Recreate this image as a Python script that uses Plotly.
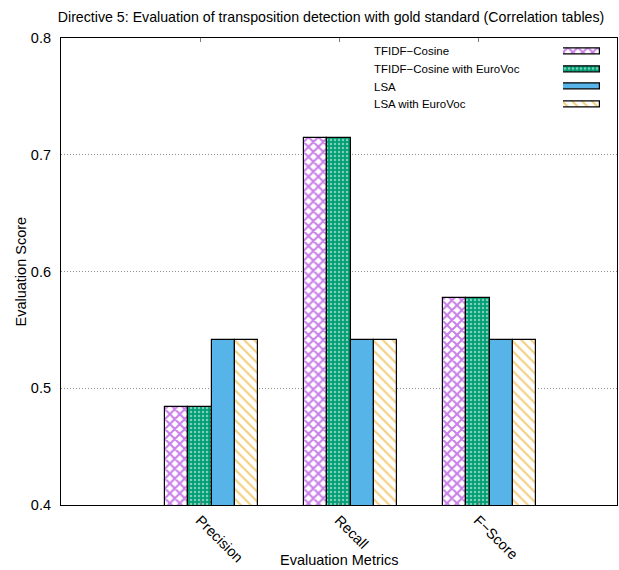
import numpy as np
import plotly.graph_objects as go

# Evaluation results per metric
metrics = ["Precision", "Recall", "F\u2212Score"]
series_names = ["TFIDF\u2212Cosine", "TFIDF\u2212Cosine with EuroVoc", "LSA", "LSA with EuroVoc"]
tfidf_cosine = [0.4839, 0.7143, 0.5769]
tfidf_cosine_eurovoc = [0.4839, 0.7143, 0.5769]
lsa = [0.5417, 0.5417, 0.5417]
lsa_eurovoc = [0.5417, 0.5417, 0.5417]
y_ticks = [0.4, 0.5, 0.6, 0.7, 0.8]

series_values = [tfidf_cosine, tfidf_cosine_eurovoc, lsa, lsa_eurovoc]

# Bar styles (gnuplot-like palette and fill patterns)
styles = [
    dict(color="white", pattern=dict(shape="x", fgcolor="#9400d3", bgcolor="white",
                                     size=7, solidity=0.5, fillmode="overlay")),
    dict(color="#009e73", pattern=dict(shape=".", fgcolor="white", bgcolor="#009e73",
                                       size=4, solidity=0.3, fillmode="overlay")),
    dict(color="#56b4e9"),
    dict(color="white", pattern=dict(shape="\\", fgcolor="#e69f00", bgcolor="white",
                                     size=7, solidity=0.3, fillmode="overlay")),
]

FONT = "Liberation Sans, Arial, sans-serif"
n_series = len(series_values)
bar_w = 1.0 / (n_series + 2)
idx = np.arange(len(metrics))

fig = go.Figure()
for j, (name, vals) in enumerate(zip(series_names, series_values)):
    offset = (j - 1) * bar_w
    fig.add_trace(go.Bar(
        x=idx + offset, y=vals, width=bar_w, name=name,
        marker=dict(line=dict(color="black", width=1.2), **styles[j]),
        showlegend=False, xaxis="x", yaxis="y",
    ))

# Key swatches drawn on a small auxiliary axis pair in the upper right
for j, name in enumerate(series_names):
    fig.add_trace(go.Bar(
        x=[1], y=[j], base=0, orientation="h", width=0.34,
        marker=dict(line=dict(color="black", width=1.2), **styles[j]),
        showlegend=False, hoverinfo="skip", xaxis="x2", yaxis="y2",
    ))
    fig.add_annotation(
        text=name, xref="paper", yref="y2", x=0.559, y=j,
        xanchor="left", yanchor="middle", showarrow=False,
        font=dict(family=FONT, size=11.5, color="black"),
    )

fig.update_layout(
    width=619, height=570,
    margin=dict(l=61, r=2, t=38, b=65),
    paper_bgcolor="white", plot_bgcolor="white",
    barmode="overlay", bargap=0,
    title=dict(text="Directive 5: Evaluation of transposition detection with gold standard (Correlation tables)",
               x=331 / 619, xanchor="center", y=1 - 17 / 570, yanchor="middle",
               font=dict(family=FONT, size=14.2, color="black")),
    xaxis=dict(range=[-1, 3], tickvals=list(idx), ticktext=metrics, tickangle=45,
               showgrid=False, zeroline=False, showline=True, mirror="ticks",
               linecolor="black", linewidth=1.2, ticks="inside", ticklen=4,
               tickcolor="#808080", tickfont=dict(family=FONT, size=14.5, color="black")),
    yaxis=dict(range=[0.4, 0.8], tickvals=y_ticks, tickformat=".1f",
               showgrid=True, griddash="1px,2px", gridcolor="#909090", gridwidth=1,
               zeroline=False, showline=True, mirror=True, linecolor="black", linewidth=1.2,
               ticks="", ticklabelstandoff=6,
               tickfont=dict(family=FONT, size=14.5, color="black")),
    xaxis2=dict(domain=[(563 - 61) / 556, (600 - 61) / 556], range=[0, 1], anchor="y2",
                visible=False, fixedrange=True),
    yaxis2=dict(domain=[0.839, 0.9905], range=[3.5, -0.5], anchor="x2",
                visible=False, fixedrange=True),
    annotations=list(fig.layout.annotations) + [
        dict(text="Evaluation Score", xref="paper", yref="paper", x=(20 - 61) / 556, y=0.5,
             textangle=-90, xanchor="center", yanchor="middle", showarrow=False,
             font=dict(family=FONT, size=14.5, color="black")),
        dict(text="Evaluation Metrics", xref="paper", yref="paper", x=0.5, y=-(560 - 505) / 467,
             xanchor="center", yanchor="middle", showarrow=False,
             font=dict(family=FONT, size=14.5, color="black")),
    ],
)

fig.write_html("out.html")
